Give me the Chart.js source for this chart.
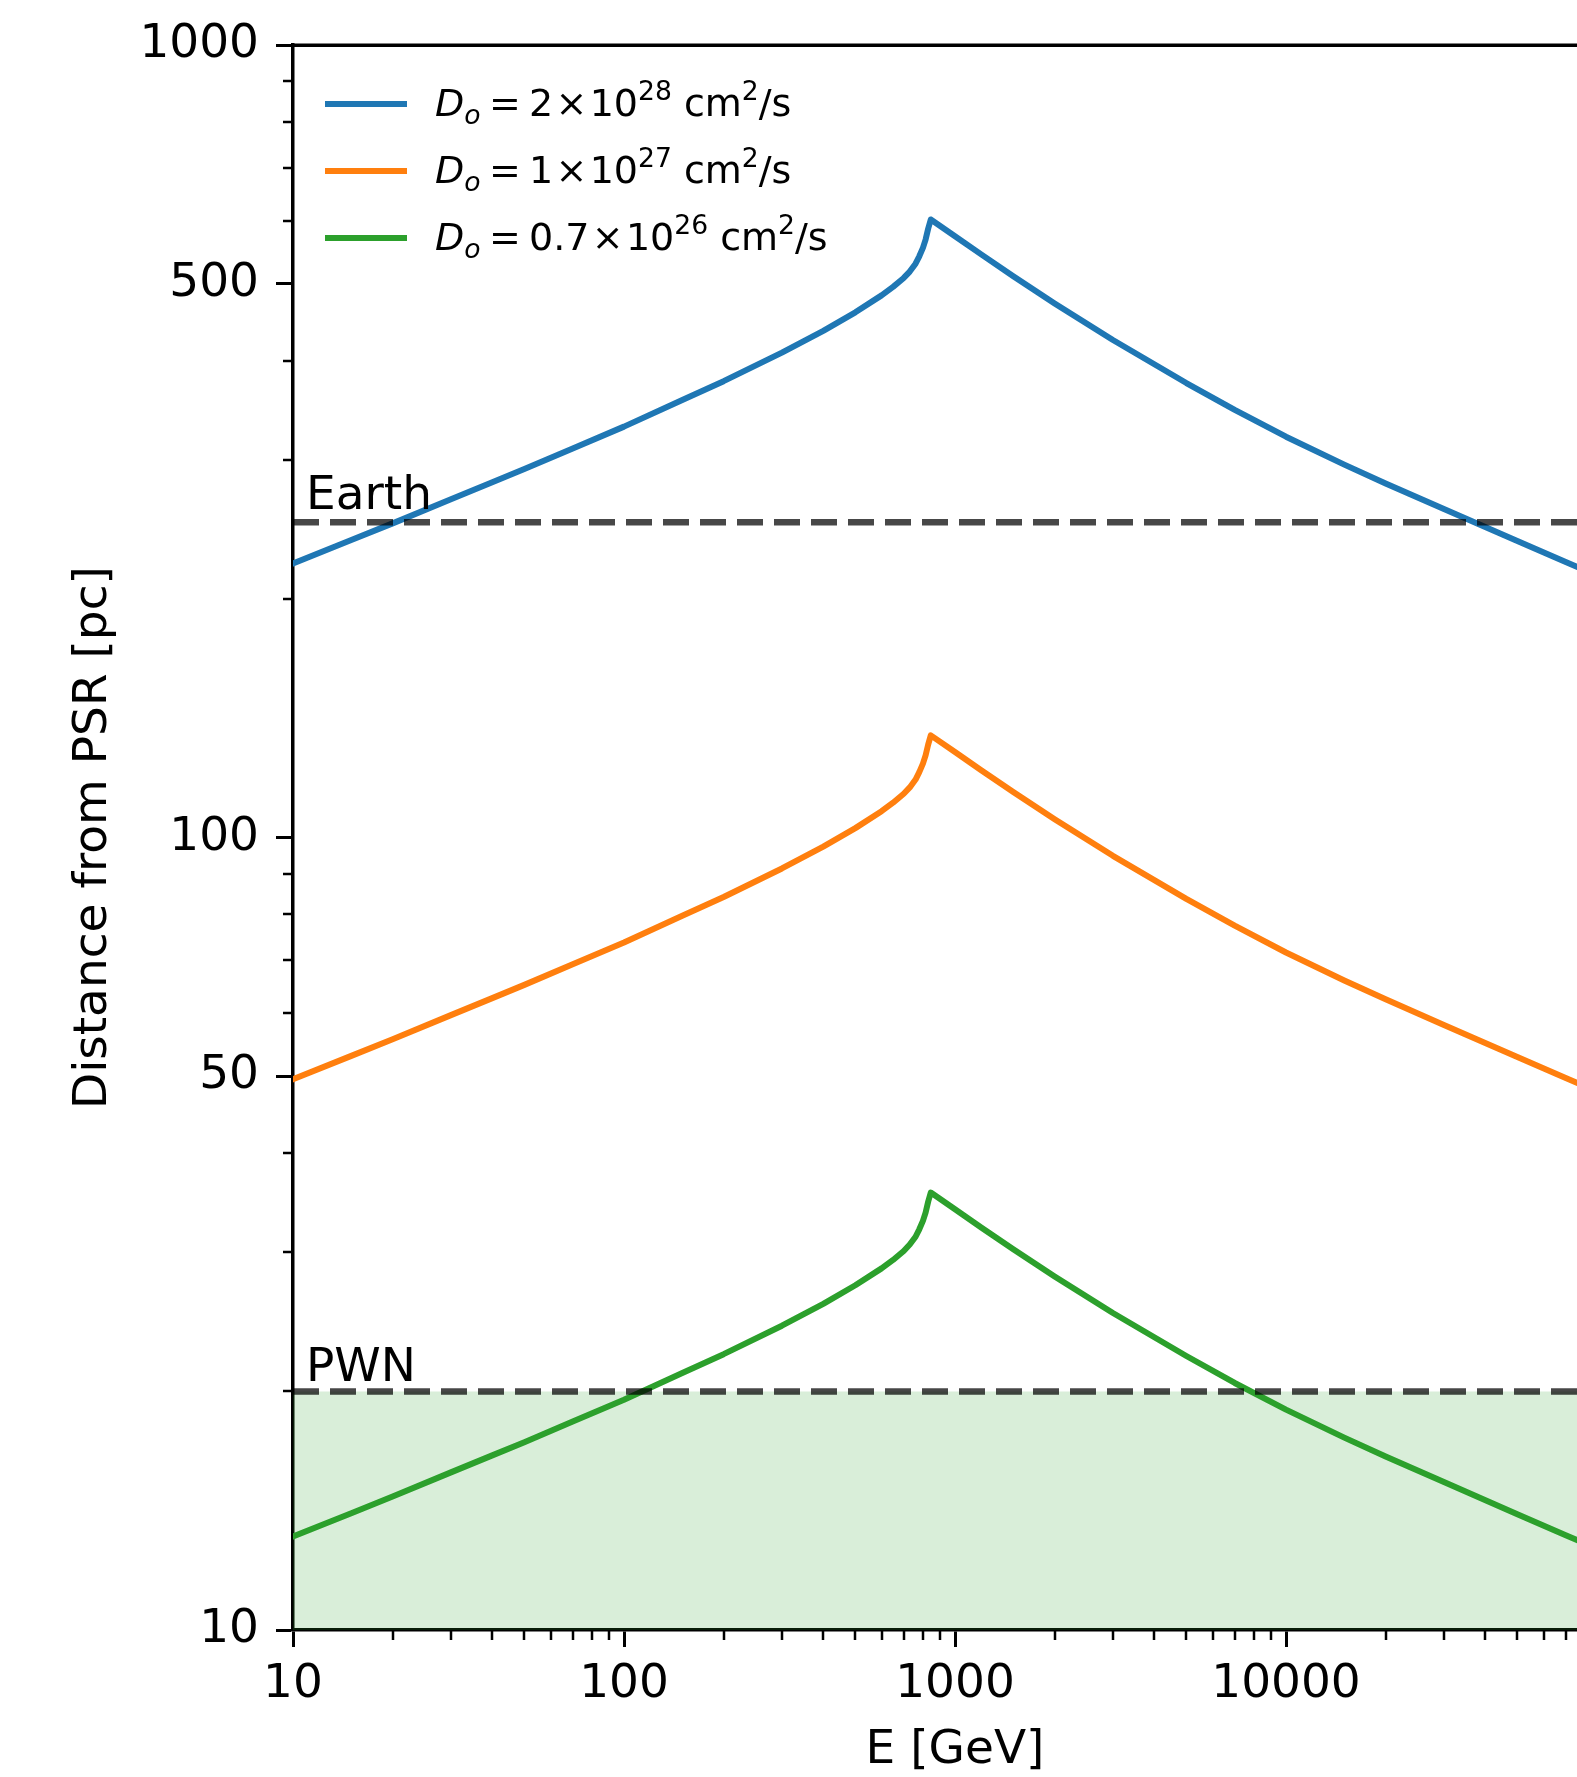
<!DOCTYPE html>
<html><head><meta charset="utf-8">
<script src="https://cdn.jsdelivr.net/npm/chart.js@4/dist/chart.umd.min.js"></script>
<style>
html,body{margin:0;padding:0;background:#fff;overflow:hidden;width:1577px;height:1777px;}
#wrap{position:absolute;left:0;top:0;width:1720px;height:1777px;}
canvas{display:block;}
</style></head><body>
<div id="wrap"><canvas id="c" width="1720" height="1777" style="width:1720px;height:1777px"></canvas></div>
<script>
// ---- data ----
const energyGeV = [10,15,20,30,40,50,70,100,150,200,300,400,500,600,650,700,730,760,780,800,815,830,845,1000,1200,1500,2000,3000,5000,7000,10000,15000,20000,30000,50000,70000,100000];
const distBlue   = [221.8,237.4,249.2,267.3,280.8,291.8,309.8,330.1,356.7,376.7,409.3,436.1,460.2,483.4,495.5,508.5,518.0,530.0,541.5,555.0,568.5,587.0,602.6,574.0,544.5,511.0,472.2,424.6,374.7,346.6,320.6,295.6,279.9,259.8,236.7,222.7,208.9];
const distOrange = [49.54,53.03,55.66,59.70,62.72,65.18,69.20,73.73,79.67,84.14,91.42,97.41,102.79,107.97,110.68,113.58,115.70,118.38,120.95,123.96,126.98,131.11,134.60,128.21,121.62,114.14,105.47,94.84,83.69,77.42,71.61,66.03,62.52,58.03,52.87,49.74,46.66];
const distGreen  = [13.12,14.04,14.74,15.81,16.61,17.26,18.33,19.53,21.10,22.29,24.21,25.80,27.23,28.60,29.31,30.08,30.65,31.35,32.04,32.83,33.63,34.73,35.65,33.96,32.21,30.23,27.94,25.12,22.17,20.50,18.97,17.49,16.56,15.37,14.00,13.17,12.36];
const earthDist = 250;
const pwnDist = 20;
const legendMantissa = ['2','1','0.7'];
const legendExponent = ['28','27','26'];
const xTickValues = [10,100,1000,10000];
const xTickLabels = ['10','100','1000','10000'];
const yTickValues = [10,50,100,500,1000];
const yTickLabels = ['10','50','100','500','1000'];
const xMinorTicks = [20,30,40,50,60,70,80,90,200,300,400,500,600,700,800,900,2000,3000,4000,5000,6000,7000,8000,9000,20000,30000,40000,50000,60000,70000,80000,90000];
const yMinorTicks = [20,30,40,60,70,80,90,200,300,400,600,700,800,900];
const xTitle = 'E [GeV]';
const yTitle = 'Distance from PSR [pc]';

const COLORS = ['#1f77b4','#ff7f0e','#2ca02c'];
const FONT = '"DejaVu Sans", "Liberation Sans", sans-serif';

function pts(ys){ return energyGeV.map((e,i)=>({x:e,y:ys[i]})); }
const xEnds = [energyGeV[0], energyGeV[energyGeV.length-1]];

function drawMath(ctx, x, y, parts, size){
  for (const p of parts){
    const s = p.sm ? size*0.7 : size;
    ctx.font = (p.it ? 'italic ' : '') + s + 'px ' + FONT;
    const dy = p.sub ? size*0.2 : (p.sup ? -size*0.42 : 0);
    ctx.fillText(p.t, x, y+dy);
    x += ctx.measureText(p.t).width + (p.after||0)*size;
  }
}

const extras = {
  id:'extras',
  afterDraw(chart){
    const ctx = chart.ctx, a = chart.chartArea, xs = chart.scales.x, ys = chart.scales.y;
    ctx.save();
    ctx.strokeStyle = '#000';
    // minor ticks
    ctx.lineWidth = 2.5;
    ctx.beginPath();
    for (const v of xMinorTicks){ const px = Math.round(xs.getPixelForValue(v)); ctx.moveTo(px, a.bottom); ctx.lineTo(px, a.bottom+10); }
    for (const v of yMinorTicks){ const py = Math.round(ys.getPixelForValue(v)); ctx.moveTo(a.left, py); ctx.lineTo(a.left-10, py); }
    ctx.stroke();
    // major tick at the right end of x axis (unlabelled, off-screen)
    ctx.lineWidth = 3;
    ctx.beginPath();
    const pr = xs.getPixelForValue(100000); ctx.moveTo(pr, a.bottom); ctx.lineTo(pr, a.bottom+17);
    ctx.stroke();
    // top & right spines
    ctx.lineWidth = 3.5;
    ctx.beginPath();
    ctx.moveTo(a.left-1.75, a.top); ctx.lineTo(a.right+1.75, a.top);
    ctx.moveTo(a.right, a.top); ctx.lineTo(a.right, a.bottom);
    ctx.stroke();
    // region labels
    ctx.fillStyle = '#000';
    ctx.font = '47px ' + FONT;
    ctx.textBaseline = 'alphabetic';
    ctx.textAlign = 'left';
    ctx.fillText('Earth', a.left+13, ys.getPixelForValue(earthDist)-13);
    ctx.fillText('PWN', a.left+13, ys.getPixelForValue(pwnDist)-10);
    // legend
    const rowY = [104,171,238];
    for (let i=0;i<3;i++){
      ctx.strokeStyle = COLORS[i];
      ctx.lineWidth = 6;
      ctx.lineCap = 'butt';
      ctx.beginPath(); ctx.moveTo(325,rowY[i]); ctx.lineTo(407,rowY[i]); ctx.stroke();
      ctx.fillStyle = '#000';
      drawMath(ctx, 435, rowY[i]+12, [
        {t:'D', it:1},
        {t:'o', it:1, sm:1, sub:1, after:0.22},
        {t:'=', after:0.22},
        {t:legendMantissa[i], after:0.06},
        {t:'\u00d7', after:0.06},
        {t:'10'},
        {t:legendExponent[i], sm:1, sup:1},
        {t:' cm'},
        {t:'2', sm:1, sup:1},
        {t:'/s'}
      ], 38);
    }
    ctx.restore();
  }
};

const lineDs = (label, ys, color) => ({
  label, data: pts(ys), borderColor: color, borderWidth: 6, pointRadius: 0, tension: 0, fill: false, borderJoinStyle:'round', borderCapStyle:'round'
});

new Chart(document.getElementById('c'), {
  type: 'line',
  data: {
    datasets: [
      {label:'Earth', data: xEnds.map(x=>({x, y:earthDist})), borderColor:'rgba(0,0,0,0.72)', borderWidth:6.5, borderDash:[26,11], pointRadius:0, fill:false},
      {label:'PWN', data: xEnds.map(x=>({x, y:pwnDist})), borderColor:'rgba(0,0,0,0.72)', borderWidth:6.5, borderDash:[26,11], pointRadius:0, fill:false},
      lineDs('D_o = 2x10^28', distBlue, COLORS[0]),
      lineDs('D_o = 1x10^27', distOrange, COLORS[1]),
      lineDs('D_o = 0.7x10^26', distGreen, COLORS[2]),
      {label:'PWN region', data: xEnds.map(x=>({x, y:pwnDist})), borderWidth:0, borderColor:'rgba(0,0,0,0)', pointRadius:0, fill:'start', backgroundColor:'rgba(44,160,44,0.18)'}
    ]
  },
  options: {
    responsive: false, animation: false, devicePixelRatio: 1,
    layout: { padding: { top: 45, right: 103, left: 0, bottom: 0 } },
    plugins: { legend: { display: false }, tooltip: { enabled: false } },
    scales: {
      x: {
        type: 'logarithmic', min: 10, max: 100000, position: 'bottom',
        afterBuildTicks(s){ s.ticks = xTickValues.map(v=>({value:v})); },
        afterFit(s){ s.height = 147; },
        ticks: { autoSkip:false, maxRotation:0, color:'#000', font:{family:FONT, size:47}, padding:10,
                 callback:(v)=>{ const i = xTickValues.indexOf(v); return i>=0 ? xTickLabels[i] : ''; } },
        grid: { display:true, drawOnChartArea:false, drawTicks:true, tickLength:17, tickWidth:3, tickColor:'#000', color:'#000' },
        border: { display:true, color:'#000', width:3.5 },
        title: { display:true, text:xTitle, color:'#000', font:{family:FONT, size:47}, padding:{top:0,bottom:-2} }
      },
      y: {
        type: 'logarithmic', min: 10, max: 1000,
        afterBuildTicks(s){ s.ticks = yTickValues.map(v=>({value:v})); },
        afterFit(s){ s.width = 293; },
        ticks: { autoSkip:false, color:'#000', font:{family:FONT, size:47}, padding:17,
                 callback:(v)=>{ const i = yTickValues.indexOf(v); return i>=0 ? yTickLabels[i] : ''; } },
        grid: { display:true, drawOnChartArea:false, drawTicks:true, tickLength:17, tickWidth:3, tickColor:'#000', color:'#000' },
        border: { display:true, color:'#000', width:3.5 },
        title: { display:true, text:yTitle, color:'#000', font:{family:FONT, size:47}, padding:{top:66,bottom:0} }
      }
    }
  },
  plugins: [extras]
});
</script>
</body></html>
